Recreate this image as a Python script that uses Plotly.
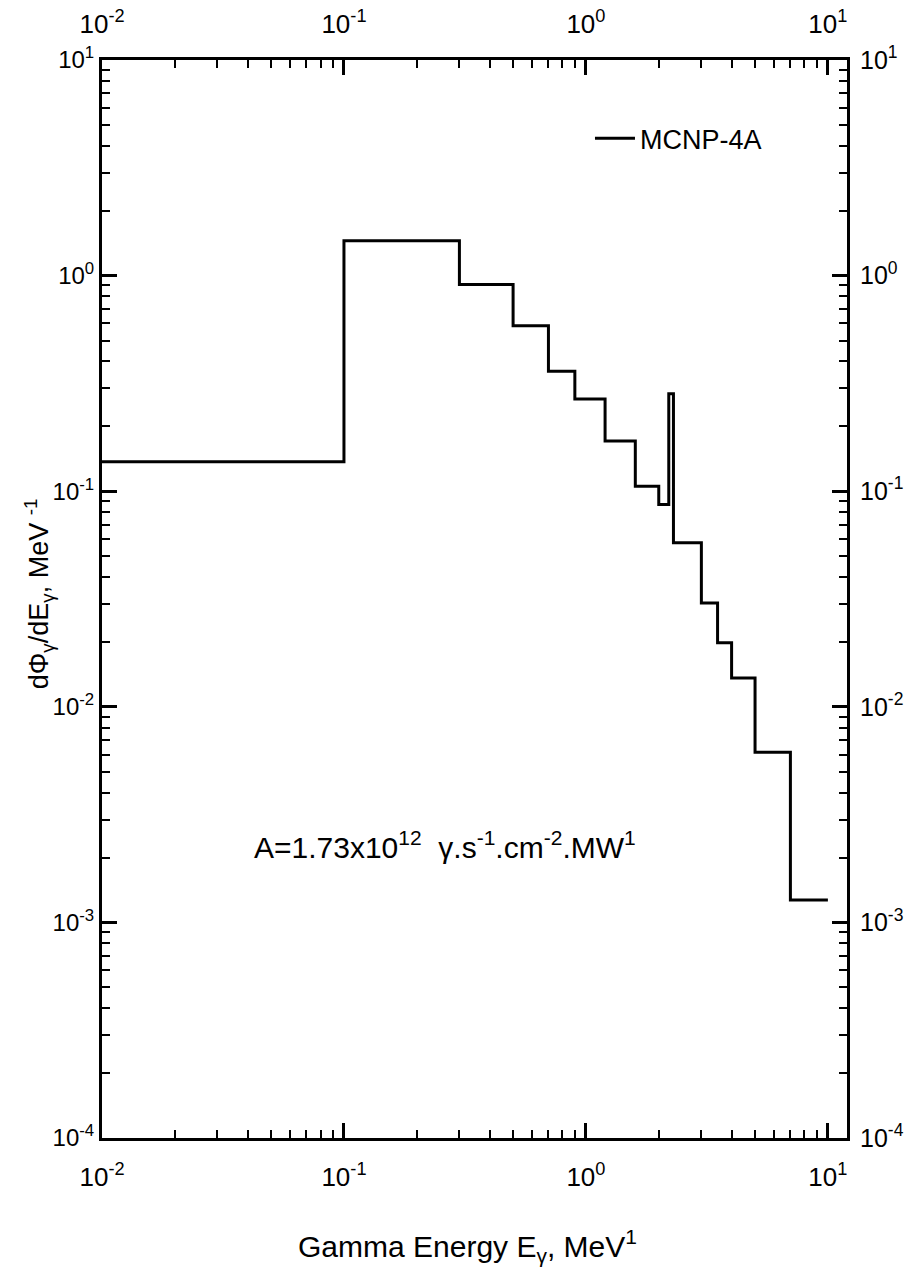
import plotly.graph_objects as go

# Bin edges (MeV) and spectrum values per bin
energy_edges = [0.01, 0.1, 0.3, 0.5, 0.7, 0.9, 1.2, 1.6, 2.0, 2.2, 2.3,
                3.0, 3.5, 4.0, 5.0, 7.0, 10.0]
flux_values = [0.137, 1.45, 0.91, 0.586, 0.36, 0.268, 0.171, 0.1055, 0.0867,
               0.283, 0.0576, 0.0303, 0.0198, 0.0136, 0.00616, 0.00127]
series_name = "MCNP-4A"

x_tickvals = [0.01, 0.1, 1, 10]
x_ticktext = ["10<sup>-2</sup>", "10<sup>-1</sup>", "10<sup>0</sup>", "10<sup>1</sup>"]
y_tickvals = [1e-4, 1e-3, 1e-2, 1e-1, 1, 10]
y_ticktext = ["10<sup>-4</sup>", "10<sup>-3</sup>", "10<sup>-2</sup>",
              "10<sup>-1</sup>", "10<sup>0</sup>", "10<sup>1</sup>"]

x_step = energy_edges
y_step = flux_values + [flux_values[-1]]

FONT = "Liberation Sans, Arial, Helvetica, sans-serif"

fig = go.Figure()
fig.add_trace(go.Scatter(
    x=x_step, y=y_step, mode="lines", line_shape="hv",
    line=dict(color="black", width=3), name=series_name,
    xaxis="x", yaxis="y"))
# invisible trace to bind the mirrored top/right axes
fig.add_trace(go.Scatter(
    x=x_step, y=y_step, mode="lines", line=dict(width=0, color="rgba(0,0,0,0)"),
    showlegend=False, hoverinfo="skip", xaxis="x2", yaxis="y2"))

xr = [-2, 1.079]
yr = [-4, 1]
common_axis = dict(type="log", showgrid=False, zeroline=False, showline=True,
                   automargin=False,
                   linecolor="black", linewidth=3, ticks="inside", ticklen=15,
                   tickwidth=2.5, tickcolor="black",
                   minor=dict(ticks="inside", ticklen=8, tickwidth=2,
                              tickcolor="black", dtick="D1", showgrid=False),
                   tickfont=dict(family=FONT, size=26, color="black"))

fig.update_layout(
    width=911, height=1277,
    margin=dict(l=102, r=64, t=60, b=139),
    paper_bgcolor="white", plot_bgcolor="white",
    showlegend=True,
    legend=dict(x=0.655, y=0.927, xanchor="left", yanchor="middle",
                bgcolor="rgba(0,0,0,0)", borderwidth=0, itemwidth=40,
                font=dict(family=FONT, size=27, color="black")),
    xaxis=dict(common_axis, range=xr, tickvals=x_tickvals, ticktext=x_ticktext,
               ticklabelstandoff=14),
    yaxis=dict(common_axis, range=yr, tickvals=y_tickvals, ticktext=y_ticktext,
               ticklabelstandoff=0, tickfont=dict(family=FONT, size=24, color="black")),
    xaxis2=dict(common_axis, range=xr, tickvals=x_tickvals, ticktext=x_ticktext,
                overlaying="x", side="top", anchor="y2", ticklabelstandoff=14),
    yaxis2=dict(common_axis, range=yr, tickvals=y_tickvals, ticktext=y_ticktext,
                overlaying="y", side="right", anchor="x2", ticklabelstandoff=5,
                tickfont=dict(family=FONT, size=25, color="black")),
    annotations=[
        dict(text="A=1.73x10<sup>12</sup>  γ.s<sup>-1</sup>.cm<sup>-2</sup>.MW<sup>1</sup>",
             xref="paper", yref="paper", x=0.46, y=0.252, showarrow=False,
             font=dict(family=FONT, size=30, color="black")),
        dict(text="Gamma Energy E<sub>γ</sub>, MeV<sup>1</sup>",
             xref="paper", yref="paper", x=0.49, y=-0.10, yanchor="middle",
             showarrow=False,
             font=dict(family=FONT, size=30, color="black")),
        dict(text="dΦ<sub>γ</sub>/dE<sub>γ</sub>, MeV <sup>-1</sup>",
             xref="paper", yref="paper", x=-0.085, y=0.505, xanchor="center",
             yanchor="middle", textangle=-90, showarrow=False,
             font=dict(family=FONT, size=27, color="black")),
    ],
)

fig.write_html("out.html")
